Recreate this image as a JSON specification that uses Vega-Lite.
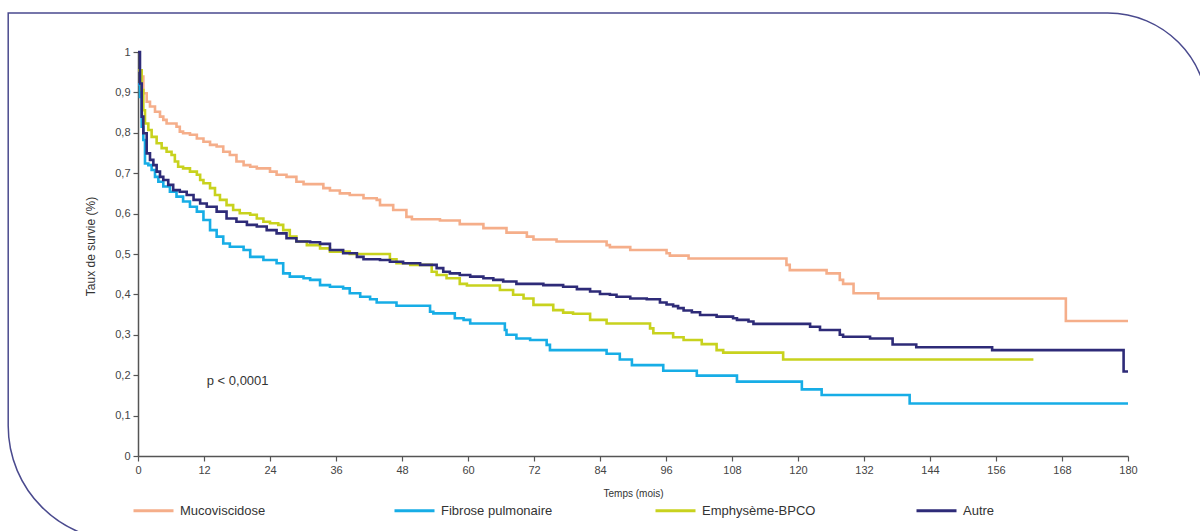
{
  "$schema": "https://vega.github.io/schema/vega-lite/v6.json",
  "width": 990,
  "height": 404,
  "autosize": {"type": "none"},
  "padding": {"left": 138, "top": 52, "right": 72, "bottom": 75},
  "background": "white",
  "config": {
    "view": {"stroke": null},
    "font": "Liberation Sans",
    "axis": {"grid": false, "domainColor": "#555555", "tickColor": "#555555", "labelColor": "#444444", "labelFont": "Liberation Sans", "labelFontSize": 11, "tickSize": 5, "domainWidth": 1.5, "tickWidth": 1.2, "titleFont": "Liberation Sans", "titleFontWeight": "normal", "titleColor": "#333333"}
  },
  "datasets": {
    "km": [
      {"g": "Mucoviscidose", "t": 0, "s": 0.955},
      {"g": "Mucoviscidose", "t": 0.48, "s": 0.939},
      {"g": "Mucoviscidose", "t": 0.97, "s": 0.898},
      {"g": "Mucoviscidose", "t": 1.58, "s": 0.877},
      {"g": "Mucoviscidose", "t": 2.18, "s": 0.865},
      {"g": "Mucoviscidose", "t": 3.09, "s": 0.852},
      {"g": "Mucoviscidose", "t": 4.0, "s": 0.84},
      {"g": "Mucoviscidose", "t": 4.6, "s": 0.832},
      {"g": "Mucoviscidose", "t": 5.2, "s": 0.823},
      {"g": "Mucoviscidose", "t": 7.0, "s": 0.815},
      {"g": "Mucoviscidose", "t": 7.6, "s": 0.803},
      {"g": "Mucoviscidose", "t": 8.2, "s": 0.799},
      {"g": "Mucoviscidose", "t": 9.45, "s": 0.795},
      {"g": "Mucoviscidose", "t": 10.7, "s": 0.786},
      {"g": "Mucoviscidose", "t": 11.9, "s": 0.778},
      {"g": "Mucoviscidose", "t": 13.1, "s": 0.77},
      {"g": "Mucoviscidose", "t": 14.3, "s": 0.766},
      {"g": "Mucoviscidose", "t": 15.5, "s": 0.753},
      {"g": "Mucoviscidose", "t": 16.7, "s": 0.745},
      {"g": "Mucoviscidose", "t": 17.9, "s": 0.729},
      {"g": "Mucoviscidose", "t": 19.2, "s": 0.72},
      {"g": "Mucoviscidose", "t": 20.4, "s": 0.716},
      {"g": "Mucoviscidose", "t": 21.6, "s": 0.712},
      {"g": "Mucoviscidose", "t": 24.0, "s": 0.704},
      {"g": "Mucoviscidose", "t": 25.2, "s": 0.696},
      {"g": "Mucoviscidose", "t": 27.0, "s": 0.691},
      {"g": "Mucoviscidose", "t": 28.8, "s": 0.679},
      {"g": "Mucoviscidose", "t": 30.1, "s": 0.673},
      {"g": "Mucoviscidose", "t": 33.7, "s": 0.663},
      {"g": "Mucoviscidose", "t": 34.9, "s": 0.657},
      {"g": "Mucoviscidose", "t": 36.7, "s": 0.65},
      {"g": "Mucoviscidose", "t": 38.5, "s": 0.646},
      {"g": "Mucoviscidose", "t": 41.0, "s": 0.638},
      {"g": "Mucoviscidose", "t": 43.4, "s": 0.634},
      {"g": "Mucoviscidose", "t": 44.0, "s": 0.621},
      {"g": "Mucoviscidose", "t": 46.4, "s": 0.609},
      {"g": "Mucoviscidose", "t": 48.8, "s": 0.592},
      {"g": "Mucoviscidose", "t": 49.8, "s": 0.586},
      {"g": "Mucoviscidose", "t": 54.9, "s": 0.583},
      {"g": "Mucoviscidose", "t": 58.5, "s": 0.574},
      {"g": "Mucoviscidose", "t": 62.8, "s": 0.564},
      {"g": "Mucoviscidose", "t": 67.0, "s": 0.553},
      {"g": "Mucoviscidose", "t": 70.7, "s": 0.543},
      {"g": "Mucoviscidose", "t": 71.9, "s": 0.536},
      {"g": "Mucoviscidose", "t": 76.1, "s": 0.531},
      {"g": "Mucoviscidose", "t": 85.2, "s": 0.522},
      {"g": "Mucoviscidose", "t": 85.8, "s": 0.517},
      {"g": "Mucoviscidose", "t": 89.5, "s": 0.51},
      {"g": "Mucoviscidose", "t": 96.1, "s": 0.502},
      {"g": "Mucoviscidose", "t": 96.7, "s": 0.496},
      {"g": "Mucoviscidose", "t": 100.1, "s": 0.489},
      {"g": "Mucoviscidose", "t": 117.9, "s": 0.473},
      {"g": "Mucoviscidose", "t": 118.5, "s": 0.46},
      {"g": "Mucoviscidose", "t": 125.2, "s": 0.452},
      {"g": "Mucoviscidose", "t": 127.6, "s": 0.436},
      {"g": "Mucoviscidose", "t": 128.2, "s": 0.426},
      {"g": "Mucoviscidose", "t": 130.1, "s": 0.403},
      {"g": "Mucoviscidose", "t": 134.6, "s": 0.39},
      {"g": "Mucoviscidose", "t": 168.7, "s": 0.334},
      {"g": "Mucoviscidose", "t": 180, "s": 0.334},
      {"g": "Fibrose pulmonaire", "t": 0, "s": 0.92},
      {"g": "Fibrose pulmonaire", "t": 0.36, "s": 0.889},
      {"g": "Fibrose pulmonaire", "t": 0.67, "s": 0.815},
      {"g": "Fibrose pulmonaire", "t": 0.97, "s": 0.782},
      {"g": "Fibrose pulmonaire", "t": 1.27, "s": 0.724},
      {"g": "Fibrose pulmonaire", "t": 1.88, "s": 0.72},
      {"g": "Fibrose pulmonaire", "t": 2.48, "s": 0.708},
      {"g": "Fibrose pulmonaire", "t": 3.09, "s": 0.691},
      {"g": "Fibrose pulmonaire", "t": 3.7, "s": 0.679},
      {"g": "Fibrose pulmonaire", "t": 4.6, "s": 0.667},
      {"g": "Fibrose pulmonaire", "t": 5.8, "s": 0.654},
      {"g": "Fibrose pulmonaire", "t": 7.0, "s": 0.642},
      {"g": "Fibrose pulmonaire", "t": 8.2, "s": 0.63},
      {"g": "Fibrose pulmonaire", "t": 9.45, "s": 0.617},
      {"g": "Fibrose pulmonaire", "t": 10.7, "s": 0.605},
      {"g": "Fibrose pulmonaire", "t": 11.9, "s": 0.584},
      {"g": "Fibrose pulmonaire", "t": 13.1, "s": 0.559},
      {"g": "Fibrose pulmonaire", "t": 14.3, "s": 0.543},
      {"g": "Fibrose pulmonaire", "t": 15.5, "s": 0.526},
      {"g": "Fibrose pulmonaire", "t": 16.7, "s": 0.518},
      {"g": "Fibrose pulmonaire", "t": 19.2, "s": 0.51},
      {"g": "Fibrose pulmonaire", "t": 20.4, "s": 0.493},
      {"g": "Fibrose pulmonaire", "t": 22.8, "s": 0.485},
      {"g": "Fibrose pulmonaire", "t": 25.2, "s": 0.477},
      {"g": "Fibrose pulmonaire", "t": 26.4, "s": 0.452},
      {"g": "Fibrose pulmonaire", "t": 27.6, "s": 0.444},
      {"g": "Fibrose pulmonaire", "t": 30.1, "s": 0.44},
      {"g": "Fibrose pulmonaire", "t": 31.3, "s": 0.436},
      {"g": "Fibrose pulmonaire", "t": 33.1, "s": 0.423},
      {"g": "Fibrose pulmonaire", "t": 34.9, "s": 0.419},
      {"g": "Fibrose pulmonaire", "t": 37.3, "s": 0.415},
      {"g": "Fibrose pulmonaire", "t": 38.5, "s": 0.403},
      {"g": "Fibrose pulmonaire", "t": 40.4, "s": 0.394},
      {"g": "Fibrose pulmonaire", "t": 42.2, "s": 0.388},
      {"g": "Fibrose pulmonaire", "t": 43.4, "s": 0.38},
      {"g": "Fibrose pulmonaire", "t": 47.0, "s": 0.372},
      {"g": "Fibrose pulmonaire", "t": 53.1, "s": 0.357},
      {"g": "Fibrose pulmonaire", "t": 53.7, "s": 0.353},
      {"g": "Fibrose pulmonaire", "t": 57.6, "s": 0.341},
      {"g": "Fibrose pulmonaire", "t": 59.2, "s": 0.337},
      {"g": "Fibrose pulmonaire", "t": 60.4, "s": 0.328},
      {"g": "Fibrose pulmonaire", "t": 66.7, "s": 0.312},
      {"g": "Fibrose pulmonaire", "t": 67.0, "s": 0.3},
      {"g": "Fibrose pulmonaire", "t": 68.8, "s": 0.291},
      {"g": "Fibrose pulmonaire", "t": 71.3, "s": 0.287},
      {"g": "Fibrose pulmonaire", "t": 74.3, "s": 0.275},
      {"g": "Fibrose pulmonaire", "t": 74.9, "s": 0.262},
      {"g": "Fibrose pulmonaire", "t": 85.2, "s": 0.253},
      {"g": "Fibrose pulmonaire", "t": 87.6, "s": 0.239},
      {"g": "Fibrose pulmonaire", "t": 89.8, "s": 0.225},
      {"g": "Fibrose pulmonaire", "t": 95.5, "s": 0.211},
      {"g": "Fibrose pulmonaire", "t": 101.6, "s": 0.199},
      {"g": "Fibrose pulmonaire", "t": 108.9, "s": 0.184},
      {"g": "Fibrose pulmonaire", "t": 120.7, "s": 0.165},
      {"g": "Fibrose pulmonaire", "t": 124.3, "s": 0.151},
      {"g": "Fibrose pulmonaire", "t": 140.3, "s": 0.13},
      {"g": "Fibrose pulmonaire", "t": 180, "s": 0.13},
      {"g": "Emphysème-BPCO", "t": 0, "s": 0.955},
      {"g": "Emphysème-BPCO", "t": 0.67, "s": 0.906},
      {"g": "Emphysème-BPCO", "t": 0.97, "s": 0.856},
      {"g": "Emphysème-BPCO", "t": 1.27, "s": 0.823},
      {"g": "Emphysème-BPCO", "t": 1.88, "s": 0.807},
      {"g": "Emphysème-BPCO", "t": 2.48, "s": 0.79},
      {"g": "Emphysème-BPCO", "t": 3.39, "s": 0.774},
      {"g": "Emphysème-BPCO", "t": 4.3, "s": 0.762},
      {"g": "Emphysème-BPCO", "t": 5.2, "s": 0.753},
      {"g": "Emphysème-BPCO", "t": 6.1, "s": 0.745},
      {"g": "Emphysème-BPCO", "t": 6.7, "s": 0.729},
      {"g": "Emphysème-BPCO", "t": 7.3, "s": 0.716},
      {"g": "Emphysème-BPCO", "t": 8.2, "s": 0.712},
      {"g": "Emphysème-BPCO", "t": 9.45, "s": 0.704},
      {"g": "Emphysème-BPCO", "t": 10.7, "s": 0.696},
      {"g": "Emphysème-BPCO", "t": 11.3, "s": 0.683},
      {"g": "Emphysème-BPCO", "t": 11.9, "s": 0.675},
      {"g": "Emphysème-BPCO", "t": 13.1, "s": 0.663},
      {"g": "Emphysème-BPCO", "t": 14.0, "s": 0.646},
      {"g": "Emphysème-BPCO", "t": 14.9, "s": 0.634},
      {"g": "Emphysème-BPCO", "t": 16.1, "s": 0.621},
      {"g": "Emphysème-BPCO", "t": 17.3, "s": 0.609},
      {"g": "Emphysème-BPCO", "t": 18.5, "s": 0.601},
      {"g": "Emphysème-BPCO", "t": 20.4, "s": 0.597},
      {"g": "Emphysème-BPCO", "t": 21.6, "s": 0.588},
      {"g": "Emphysème-BPCO", "t": 22.8, "s": 0.58},
      {"g": "Emphysème-BPCO", "t": 24.0, "s": 0.576},
      {"g": "Emphysème-BPCO", "t": 25.5, "s": 0.572},
      {"g": "Emphysème-BPCO", "t": 26.4, "s": 0.559},
      {"g": "Emphysème-BPCO", "t": 27.6, "s": 0.543},
      {"g": "Emphysème-BPCO", "t": 28.8, "s": 0.531},
      {"g": "Emphysème-BPCO", "t": 30.7, "s": 0.522},
      {"g": "Emphysème-BPCO", "t": 33.1, "s": 0.514},
      {"g": "Emphysème-BPCO", "t": 34.9, "s": 0.506},
      {"g": "Emphysème-BPCO", "t": 38.5, "s": 0.5},
      {"g": "Emphysème-BPCO", "t": 45.8, "s": 0.487},
      {"g": "Emphysème-BPCO", "t": 47.0, "s": 0.477},
      {"g": "Emphysème-BPCO", "t": 49.5, "s": 0.473},
      {"g": "Emphysème-BPCO", "t": 53.4, "s": 0.456},
      {"g": "Emphysème-BPCO", "t": 54.3, "s": 0.448},
      {"g": "Emphysème-BPCO", "t": 56.1, "s": 0.44},
      {"g": "Emphysème-BPCO", "t": 58.5, "s": 0.426},
      {"g": "Emphysème-BPCO", "t": 59.8, "s": 0.422},
      {"g": "Emphysème-BPCO", "t": 65.8, "s": 0.411},
      {"g": "Emphysème-BPCO", "t": 68.2, "s": 0.399},
      {"g": "Emphysème-BPCO", "t": 70.1, "s": 0.39},
      {"g": "Emphysème-BPCO", "t": 71.9, "s": 0.374},
      {"g": "Emphysème-BPCO", "t": 75.5, "s": 0.361},
      {"g": "Emphysème-BPCO", "t": 77.3, "s": 0.355},
      {"g": "Emphysème-BPCO", "t": 79.1, "s": 0.352},
      {"g": "Emphysème-BPCO", "t": 82.2, "s": 0.337},
      {"g": "Emphysème-BPCO", "t": 85.2, "s": 0.328},
      {"g": "Emphysème-BPCO", "t": 93.1, "s": 0.316},
      {"g": "Emphysème-BPCO", "t": 93.7, "s": 0.304},
      {"g": "Emphysème-BPCO", "t": 97.3, "s": 0.294},
      {"g": "Emphysème-BPCO", "t": 99.2, "s": 0.287},
      {"g": "Emphysème-BPCO", "t": 102.5, "s": 0.277},
      {"g": "Emphysème-BPCO", "t": 105.2, "s": 0.262},
      {"g": "Emphysème-BPCO", "t": 106.4, "s": 0.256},
      {"g": "Emphysème-BPCO", "t": 117.3, "s": 0.239},
      {"g": "Emphysème-BPCO", "t": 162.8, "s": 0.239},
      {"g": "Autre", "t": 0, "s": 1.0},
      {"g": "Autre", "t": 0.36, "s": 0.922},
      {"g": "Autre", "t": 0.67, "s": 0.84},
      {"g": "Autre", "t": 0.97, "s": 0.799},
      {"g": "Autre", "t": 1.58, "s": 0.749},
      {"g": "Autre", "t": 2.18, "s": 0.733},
      {"g": "Autre", "t": 2.79, "s": 0.72},
      {"g": "Autre", "t": 3.39, "s": 0.704},
      {"g": "Autre", "t": 4.0, "s": 0.691},
      {"g": "Autre", "t": 4.6, "s": 0.683},
      {"g": "Autre", "t": 5.5, "s": 0.671},
      {"g": "Autre", "t": 6.4, "s": 0.658},
      {"g": "Autre", "t": 7.6, "s": 0.654},
      {"g": "Autre", "t": 8.85, "s": 0.646},
      {"g": "Autre", "t": 10.1, "s": 0.634},
      {"g": "Autre", "t": 11.3, "s": 0.625},
      {"g": "Autre", "t": 12.5, "s": 0.617},
      {"g": "Autre", "t": 14.3, "s": 0.605},
      {"g": "Autre", "t": 16.1, "s": 0.588},
      {"g": "Autre", "t": 17.9, "s": 0.58},
      {"g": "Autre", "t": 19.8, "s": 0.572},
      {"g": "Autre", "t": 21.6, "s": 0.568},
      {"g": "Autre", "t": 23.4, "s": 0.559},
      {"g": "Autre", "t": 25.2, "s": 0.551},
      {"g": "Autre", "t": 27.0, "s": 0.539},
      {"g": "Autre", "t": 28.8, "s": 0.531},
      {"g": "Autre", "t": 31.3, "s": 0.529},
      {"g": "Autre", "t": 33.1, "s": 0.525},
      {"g": "Autre", "t": 34.9, "s": 0.51},
      {"g": "Autre", "t": 37.3, "s": 0.502},
      {"g": "Autre", "t": 39.8, "s": 0.493},
      {"g": "Autre", "t": 41.0, "s": 0.487},
      {"g": "Autre", "t": 44.0, "s": 0.485},
      {"g": "Autre", "t": 45.8, "s": 0.481},
      {"g": "Autre", "t": 48.2, "s": 0.477},
      {"g": "Autre", "t": 51.3, "s": 0.473},
      {"g": "Autre", "t": 54.3, "s": 0.465},
      {"g": "Autre", "t": 55.5, "s": 0.456},
      {"g": "Autre", "t": 56.7, "s": 0.452},
      {"g": "Autre", "t": 58.5, "s": 0.448},
      {"g": "Autre", "t": 60.4, "s": 0.444},
      {"g": "Autre", "t": 62.8, "s": 0.44},
      {"g": "Autre", "t": 64.6, "s": 0.436},
      {"g": "Autre", "t": 66.4, "s": 0.432},
      {"g": "Autre", "t": 68.8, "s": 0.426},
      {"g": "Autre", "t": 73.7, "s": 0.423},
      {"g": "Autre", "t": 77.3, "s": 0.419},
      {"g": "Autre", "t": 79.8, "s": 0.413},
      {"g": "Autre", "t": 82.2, "s": 0.407},
      {"g": "Autre", "t": 84.0, "s": 0.401},
      {"g": "Autre", "t": 85.8, "s": 0.399},
      {"g": "Autre", "t": 87.0, "s": 0.394},
      {"g": "Autre", "t": 89.5, "s": 0.39},
      {"g": "Autre", "t": 92.5, "s": 0.388},
      {"g": "Autre", "t": 94.9, "s": 0.38},
      {"g": "Autre", "t": 96.1, "s": 0.375},
      {"g": "Autre", "t": 97.3, "s": 0.371},
      {"g": "Autre", "t": 98.2, "s": 0.366},
      {"g": "Autre", "t": 99.2, "s": 0.36},
      {"g": "Autre", "t": 100.7, "s": 0.356},
      {"g": "Autre", "t": 102.2, "s": 0.349},
      {"g": "Autre", "t": 105.2, "s": 0.345},
      {"g": "Autre", "t": 108.2, "s": 0.341},
      {"g": "Autre", "t": 108.9, "s": 0.337},
      {"g": "Autre", "t": 111.0, "s": 0.333},
      {"g": "Autre", "t": 111.9, "s": 0.327},
      {"g": "Autre", "t": 122.2, "s": 0.32},
      {"g": "Autre", "t": 124.0, "s": 0.312},
      {"g": "Autre", "t": 127.6, "s": 0.3},
      {"g": "Autre", "t": 128.2, "s": 0.295},
      {"g": "Autre", "t": 133.1, "s": 0.291},
      {"g": "Autre", "t": 137.2, "s": 0.276},
      {"g": "Autre", "t": 141.5, "s": 0.269},
      {"g": "Autre", "t": 155.3, "s": 0.262},
      {"g": "Autre", "t": 179.2, "s": 0.209},
      {"g": "Autre", "t": 180, "s": 0.209}
    ]
  },
  "layer": [
    {
      "data": {"values": [{}]},
      "mark": {"type": "rect", "fill": null, "stroke": "#4a4a8e", "strokeWidth": 1.5, "cornerRadiusTopRight": 100, "cornerRadiusBottomLeft": 115, "clip": false},
      "encoding": {
        "x": {"datum": -23.6, "type": "quantitative", "scale": {"domain": [0, 180], "nice": false}},
        "x2": {"datum": 194.5},
        "y": {"datum": 1.0965, "type": "quantitative", "scale": {"domain": [0, 1], "nice": false}},
        "y2": {"datum": -0.21}
      }
    },
    {
      "data": {"name": "km"},
      "mark": {"type": "line", "interpolate": "step-after", "strokeWidth": 2.6},
      "encoding": {
        "x": {
          "field": "t", "type": "quantitative",
          "scale": {"domain": [0, 180], "nice": false},
          "axis": {
            "values": [0, 12, 24, 36, 48, 60, 72, 84, 96, 108, 120, 132, 144, 156, 168, 180],
            "title": "Temps (mois)", "titleFontSize": 10, "titleX": 495, "titleY": 37, "titleBaseline": "middle",
            "labelPadding": 3, "labelFlush": false
          }
        },
        "y": {
          "field": "s", "type": "quantitative",
          "scale": {"domain": [0, 1], "nice": false},
          "axis": {
            "values": [0, 0.1, 0.2, 0.3, 0.4, 0.5, 0.6, 0.7, 0.8, 0.9, 1],
            "labelExpr": "replace(format(datum.value, '.1~f'), '.', ',')",
            "title": "Taux de survie (%)", "titleFontSize": 12, "titleX": -48, "titleY": 194, "titleAlign": "center", "titleBaseline": "middle",
            "labelPadding": 3
          }
        },
        "color": {
          "field": "g", "type": "nominal",
          "scale": {"domain": ["Mucoviscidose", "Fibrose pulmonaire", "Emphysème-BPCO", "Autre"], "range": ["#f5ae8a", "#17ade6", "#c8d21e", "#2e2b78"]},
          "legend": {
            "orient": "none", "legendX": -6, "legendY": 437, "direction": "horizontal", "columns": 4,
            "title": null, "symbolType": "stroke", "symbolSize": 1600, "symbolStrokeWidth": 3,
            "labelFontSize": 13, "labelColor": "#333333", "labelOffset": 5, "gridAlign": "all", "columnPadding": 94, "padding": 0, "labelLimit": 300
          }
        },
        "order": {"field": "t"}
      }
    },
    {
      "data": {"values": [{}]},
      "mark": {"type": "text", "text": "p < 0,0001", "align": "left", "baseline": "middle", "fontSize": 13, "color": "#333333"},
      "encoding": {
        "x": {"datum": 12.5, "type": "quantitative"},
        "y": {"datum": 0.186, "type": "quantitative"}
      }
    }
  ]
}
